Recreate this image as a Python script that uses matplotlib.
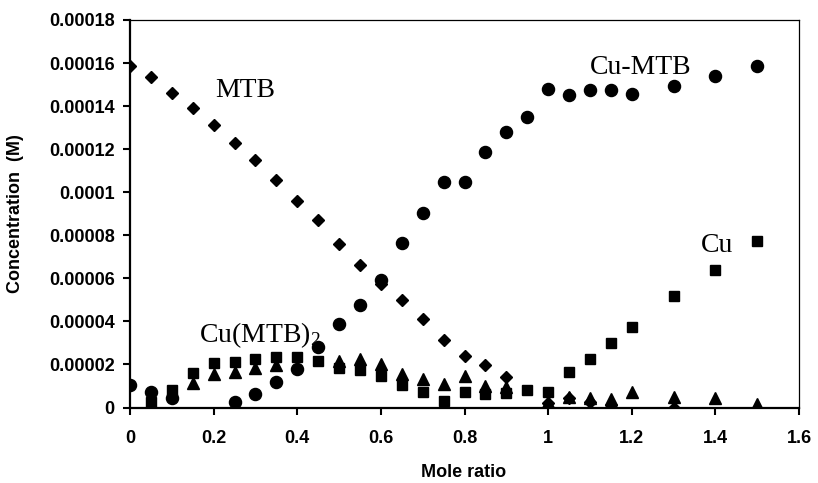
import matplotlib
matplotlib.use("Agg")
import matplotlib.pyplot as plt
from matplotlib.ticker import FixedLocator, FuncFormatter

plt.rcParams['mathtext.fontset'] = 'custom'
plt.rcParams['mathtext.rm'] = 'Liberation Serif'
plt.rcParams['mathtext.it'] = 'Liberation Serif:italic'

# MTB (diamonds)
mtb_x = [0, 0.05, 0.1, 0.15, 0.2, 0.25, 0.3, 0.35, 0.4, 0.45, 0.5, 0.55, 0.6, 0.65,
         0.7, 0.75, 0.8, 0.85, 0.9, 1.0, 1.05, 1.1, 1.15, 1.3]
mtb_y = [15.85, 15.35, 14.63, 13.93, 13.1, 12.3, 11.5, 10.58, 9.6, 8.7, 7.6, 6.6, 5.75, 4.98,
         4.13, 3.15, 2.4, 1.99, 1.44, 0.2, 0.45, 0.25, 0.1, 0.0]

# Cu-MTB (circles)
cumtb_x = [0, 0.05, 0.1, 0.25, 0.3, 0.35, 0.4, 0.45, 0.5, 0.55, 0.6, 0.65, 0.7, 0.75,
           0.8, 0.85, 0.9, 0.95, 1.0, 1.05, 1.1, 1.15, 1.2, 1.3, 1.4, 1.5]
cumtb_y = [1.05, 0.72, 0.42, 0.25, 0.65, 1.18, 1.78, 2.83, 3.9, 4.75, 5.9, 7.62, 9.03, 10.47,
           10.47, 11.87, 12.78, 13.48, 14.81, 14.5, 14.77, 14.77, 14.56, 14.92, 15.39, 15.88]

# Cu (squares)
cu_x = [0.05, 0.1, 0.15, 0.2, 0.25, 0.3, 0.35, 0.4, 0.45, 0.5, 0.55, 0.6, 0.65, 0.7,
        0.75, 0.8, 0.85, 0.9, 0.95, 1.0, 1.05, 1.1, 1.15, 1.2, 1.3, 1.4, 1.5]
cu_y = [0.27, 0.81, 1.59, 2.05, 2.1, 2.27, 2.35, 2.34, 2.16, 1.82, 1.72, 1.47, 1.03, 0.73,
        0.32, 0.72, 0.63, 0.68, 0.8, 0.74, 1.64, 2.23, 2.98, 3.76, 5.2, 6.4, 7.74]

# Cu(MTB)2 (triangles)
cumtb2_x = [0.15, 0.2, 0.25, 0.3, 0.35, 0.5, 0.55, 0.6, 0.65, 0.7, 0.75, 0.8, 0.85, 0.9,
            1.0, 1.05, 1.1, 1.15, 1.2, 1.3, 1.4, 1.5]
cumtb2_y = [1.12, 1.57, 1.65, 1.84, 1.98, 2.16, 2.24, 2.03, 1.55, 1.31, 1.08, 1.47, 1.0, 0.94,
            0.27, 0.5, 0.45, 0.38, 0.73, 0.47, 0.43, 0.15]

SCALE = 1e-5
x_ticks = [0, 0.2, 0.4, 0.6, 0.8, 1.0, 1.2, 1.4, 1.6]
y_ticks = [0, 0.00002, 0.00004, 0.00006, 0.00008, 0.0001, 0.00012, 0.00014, 0.00016, 0.00018]

fig = plt.figure(figsize=(8.18, 4.83), dpi=100)
ax = fig.add_axes([130 / 818, 1 - 407.5 / 483, 669 / 818, 387.5 / 483])

ax.plot(mtb_x, [v * SCALE for v in mtb_y], linestyle='none', marker='D', ms=6.2, color='black')
ax.plot(cumtb_x, [v * SCALE for v in cumtb_y], linestyle='none', marker='o', ms=8.7, color='black')
ax.plot(cu_x, [v * SCALE for v in cu_y], linestyle='none', marker='s', ms=7.8, color='black')
ax.plot(cumtb2_x, [v * SCALE for v in cumtb2_y], linestyle='none', marker='^', ms=8.2, color='black')

ax.set_xlim(0, 1.6)
ax.set_ylim(0, 0.00018)
ax.xaxis.set_major_locator(FixedLocator(x_ticks))
ax.yaxis.set_major_locator(FixedLocator(y_ticks))
ax.xaxis.set_major_formatter(FuncFormatter(lambda v, p: ('%.1f' % v).rstrip('0').rstrip('.') if v != 0 else '0'))
ax.yaxis.set_major_formatter(FuncFormatter(lambda v, p: ('%.5f' % v).rstrip('0').rstrip('.') if abs(v) > 1e-12 else '0'))

for lab in ax.get_xticklabels() + ax.get_yticklabels():
    lab.set_fontfamily('Liberation Sans')
    lab.set_fontweight('bold')
    lab.set_fontsize(13)

ax.tick_params(axis='both', direction='out', length=5, width=1.5, colors='black')
ax.tick_params(axis='x', pad=11)
ax.tick_params(axis='y', pad=6)
ax.tick_params(top=False, right=False)

for s in ['left', 'bottom']:
    ax.spines[s].set_linewidth(1.6)
for s in ['top', 'right']:
    ax.spines[s].set_linewidth(0.9)

ax.set_xlabel('Mole ratio', fontfamily='Liberation Sans', fontweight='bold', fontsize=13)
ax.set_ylabel('Concentration  (M)', fontfamily='Liberation Sans', fontweight='bold', fontsize=13)
ax.xaxis.set_label_coords(0.498, -0.145)
ax.yaxis.set_label_coords(-0.158, 0.5)

lab_font = dict(family='Liberation Serif', size=20, ha='left', va='baseline')
ax.text(0.204, 14.4 * SCALE, 'MTB', **lab_font)
ax.text(1.101, 15.47 * SCALE, 'Cu-MTB', **lab_font)
ax.text(1.366, 7.23 * SCALE, 'Cu', **lab_font)
ax.text(0.166, 3.05 * SCALE, 'Cu(MTB)$_2$', **lab_font)

fig.savefig('out.png', dpi=100)
